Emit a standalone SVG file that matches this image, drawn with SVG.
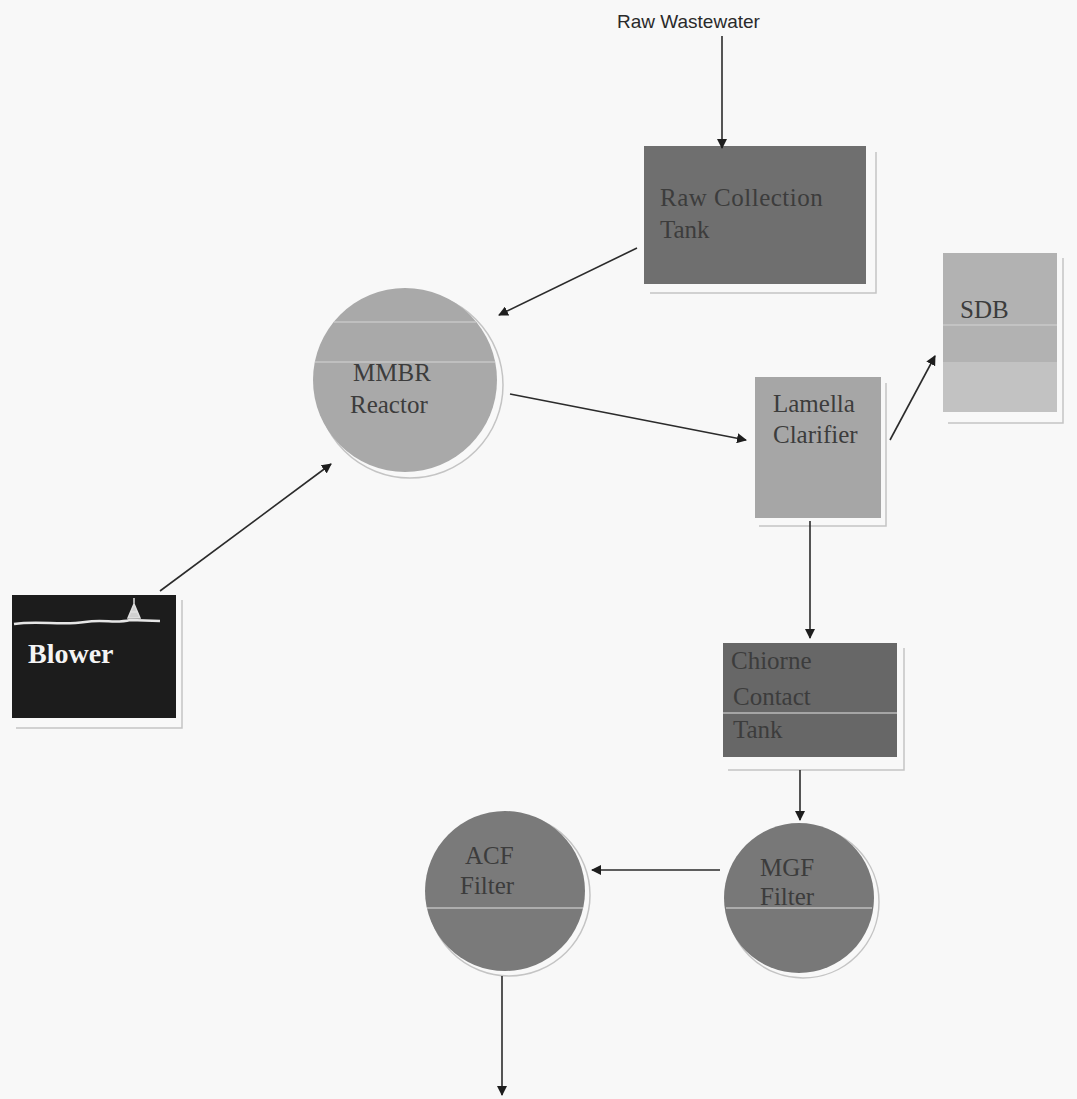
<svg xmlns="http://www.w3.org/2000/svg" width="1077" height="1099" viewBox="0 0 1077 1099">
  <defs>
    <style>
      .lbl { font-family: "Liberation Serif", "Times New Roman", serif; font-size: 25px; fill: #3c3c3c; }
      .top { font-family: "Liberation Sans", Arial, sans-serif; font-size: 19px; fill: #2a2a2a; }
      .blw { font-family: "Liberation Serif", "Times New Roman", serif; font-size: 28px; font-weight: bold; fill: #f4f4f4; }
      .edge { stroke: #2b2b2b; stroke-width: 1.6; fill: none; marker-end: url(#arr); }
      .shadow { fill: none; stroke: #c4c4c4; stroke-width: 1.5; }
      .band { stroke: #cfcfcf; stroke-width: 2; opacity: 0.6; }
    </style>
    <marker id="arr" viewBox="0 0 10 10" refX="9" refY="5" markerWidth="10" markerHeight="10" markerUnits="userSpaceOnUse" orient="auto">
      <path d="M0,0 L10,5 L0,10 z" fill="#1e1e1e"/>
    </marker>
  </defs>
  <rect width="1077" height="1099" fill="#f8f8f8"/>

  <text class="top" x="617" y="28">Raw Wastewater</text>

  <g id="raw-collection-tank">
    <polyline class="shadow" points="876,152 876,293 650,293"/>
    <rect x="644" y="146" width="222" height="138" fill="#6f6f6f"/>
    <text class="lbl" x="660" y="206" letter-spacing="0.5">Raw Collection</text>
    <text class="lbl" x="660" y="238">Tank</text>
  </g>

  <g id="mmbr-reactor">
    <circle cx="410" cy="385" r="93" class="shadow"/>
    <circle cx="405" cy="380" r="92" fill="#a9a9a9"/>
    <line class="band" x1="334" y1="322" x2="476" y2="322"/>
    <line class="band" x1="315" y1="362" x2="495" y2="362"/>
    <text class="lbl" x="353" y="381">MMBR</text>
    <text class="lbl" x="350" y="413">Reactor</text>
  </g>

  <g id="lamella-clarifier">
    <polyline class="shadow" points="886,383 886,526 759,526"/>
    <rect x="755" y="377" width="126" height="141" fill="#a6a6a6"/>
    <text class="lbl" x="773" y="412">Lamella</text>
    <text class="lbl" x="773" y="443">Clarifier</text>
  </g>

  <g id="sdb">
    <polyline class="shadow" points="1063,258 1063,423 948,423"/>
    <rect x="943" y="253" width="114" height="159" fill="#b2b2b2"/>
    <rect x="943" y="362" width="114" height="50" fill="#c2c2c2"/>
    <line class="band" x1="943" y1="325" x2="1057" y2="325"/>
    <text class="lbl" x="960" y="318">SDB</text>
  </g>

  <g id="blower">
    <polyline class="shadow" points="182,600 182,728 16,728"/>
    <rect x="12" y="595" width="164" height="123" fill="#1c1c1c"/>
    <path d="M14,624 C40,620 60,626 85,622 C105,619 115,624 130,620 L160,621" stroke="#e6e6e6" stroke-width="2.5" fill="none"/>
    <path d="M128,618 L134,604 L140,618 Z M131,612 L137,612 M134,598 L134,604" stroke="#e0e0e0" stroke-width="1.5" fill="#d0d0d0"/>
    <text class="blw" x="28" y="663">Blower</text>
  </g>

  <g id="chlorine-contact-tank">
    <polyline class="shadow" points="904,648 904,770 728,770"/>
    <rect x="723" y="643" width="174" height="114" fill="#676767"/>
    <line class="band" x1="723" y1="713" x2="897" y2="713"/>
    <text class="lbl" x="731" y="669">Chiorne</text>
    <text class="lbl" x="733" y="705">Contact</text>
    <text class="lbl" x="733" y="738">Tank</text>
  </g>

  <g id="mgf-filter">
    <circle cx="803" cy="902" r="76" class="shadow"/>
    <circle cx="799" cy="898" r="75" fill="#787878"/>
    <line class="band" x1="726" y1="908" x2="872" y2="908"/>
    <text class="lbl" x="760" y="876">MGF</text>
    <text class="lbl" x="760" y="905">Filter</text>
  </g>

  <g id="acf-filter">
    <circle cx="509" cy="895" r="81" class="shadow"/>
    <circle cx="505" cy="891" r="80" fill="#7a7a7a"/>
    <line class="band" x1="427" y1="908" x2="583" y2="908"/>
    <text class="lbl" x="465" y="864">ACF</text>
    <text class="lbl" x="460" y="894">Filter</text>
  </g>

  <g id="connectors">
    <line class="edge" x1="722" y1="36" x2="722" y2="148"/>
    <line class="edge" x1="637" y1="248" x2="499" y2="315"/>
    <line class="edge" x1="510" y1="394" x2="746" y2="440"/>
    <line class="edge" x1="890" y1="440" x2="935" y2="356"/>
    <line class="edge" x1="160" y1="591" x2="331" y2="464"/>
    <line class="edge" x1="810" y1="521" x2="810" y2="638"/>
    <line class="edge" x1="800" y1="770" x2="800" y2="820"/>
    <line class="edge" x1="720" y1="870" x2="592" y2="870"/>
    <line class="edge" x1="502" y1="976" x2="502" y2="1095"/>
  </g>
</svg>
